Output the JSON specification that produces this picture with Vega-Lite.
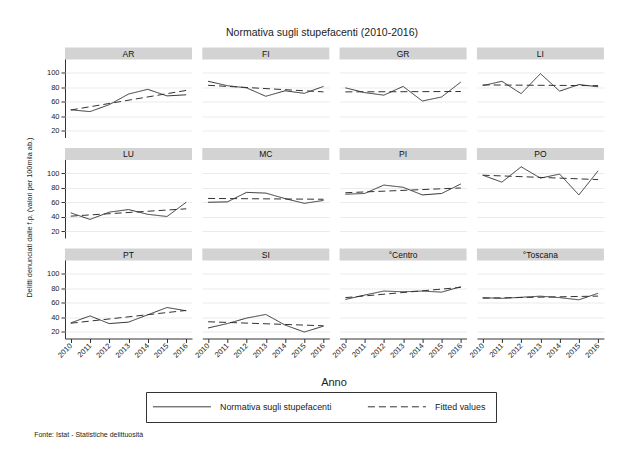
{
  "$schema": "https://vega.github.io/schema/vega-lite/v6.json",
  "padding": {"left": 26, "top": 27.5, "right": 5, "bottom": 5},
  "background": "white",
  "title": {"text": "Fonte: Istat - Statistiche delittuosità", "orient": "bottom", "anchor": "start", "fontSize": 7, "fontWeight": "normal", "color": "#222", "font": "Liberation Sans", "offset": 8, "dx": 8},
  "vconcat": [
    {
      "title": {"text": "Normativa sugli stupefacenti (2010-2016)", "anchor": "middle", "fontSize": 10.5, "fontWeight": "normal", "color": "#222", "font": "Liberation Sans", "offset": 9, "dx": 7},
      "vconcat": [
        {
          "title": {"text": "Delitti denunciati dalle f.p. (valori per 100mila ab.)", "orient": "left", "anchor": "middle", "fontSize": 7.3, "fontWeight": "normal", "color": "#222", "font": "Liberation Sans", "offset": 13},
          "data": {"values": [
            {"panel":"AR","series":"strip"},
            {"panel":"FI","series":"strip"},
            {"panel":"GR","series":"strip"},
            {"panel":"LI","series":"strip"},
            {"panel":"LU","series":"strip"},
            {"panel":"MC","series":"strip"},
            {"panel":"PI","series":"strip"},
            {"panel":"PO","series":"strip"},
            {"panel":"PT","series":"strip"},
            {"panel":"SI","series":"strip"},
            {"panel":"°Centro","series":"strip"},
            {"panel":"°Toscana","series":"strip"},
            {"panel":"AR","series":"Normativa sugli stupefacenti","anno":2010,"v":49},
            {"panel":"AR","series":"Normativa sugli stupefacenti","anno":2011,"v":46.5},
            {"panel":"AR","series":"Normativa sugli stupefacenti","anno":2012,"v":56},
            {"panel":"AR","series":"Normativa sugli stupefacenti","anno":2013,"v":70.5},
            {"panel":"AR","series":"Normativa sugli stupefacenti","anno":2014,"v":77},
            {"panel":"AR","series":"Normativa sugli stupefacenti","anno":2015,"v":68},
            {"panel":"AR","series":"Normativa sugli stupefacenti","anno":2016,"v":69.5},
            {"panel":"AR","series":"Fitted values","anno":2010,"v":48.7},
            {"panel":"AR","series":"Fitted values","anno":2016,"v":75.5},
            {"panel":"FI","series":"Normativa sugli stupefacenti","anno":2010,"v":88},
            {"panel":"FI","series":"Normativa sugli stupefacenti","anno":2011,"v":82},
            {"panel":"FI","series":"Normativa sugli stupefacenti","anno":2012,"v":79},
            {"panel":"FI","series":"Normativa sugli stupefacenti","anno":2013,"v":67.5},
            {"panel":"FI","series":"Normativa sugli stupefacenti","anno":2014,"v":75},
            {"panel":"FI","series":"Normativa sugli stupefacenti","anno":2015,"v":71.5},
            {"panel":"FI","series":"Normativa sugli stupefacenti","anno":2016,"v":81},
            {"panel":"FI","series":"Fitted values","anno":2010,"v":82.5},
            {"panel":"FI","series":"Fitted values","anno":2016,"v":73.5},
            {"panel":"GR","series":"Normativa sugli stupefacenti","anno":2010,"v":79},
            {"panel":"GR","series":"Normativa sugli stupefacenti","anno":2011,"v":72.5},
            {"panel":"GR","series":"Normativa sugli stupefacenti","anno":2012,"v":69},
            {"panel":"GR","series":"Normativa sugli stupefacenti","anno":2013,"v":81},
            {"panel":"GR","series":"Normativa sugli stupefacenti","anno":2014,"v":61},
            {"panel":"GR","series":"Normativa sugli stupefacenti","anno":2015,"v":66.5},
            {"panel":"GR","series":"Normativa sugli stupefacenti","anno":2016,"v":87},
            {"panel":"GR","series":"Fitted values","anno":2010,"v":73.5},
            {"panel":"GR","series":"Fitted values","anno":2016,"v":74},
            {"panel":"LI","series":"Normativa sugli stupefacenti","anno":2010,"v":82},
            {"panel":"LI","series":"Normativa sugli stupefacenti","anno":2011,"v":88},
            {"panel":"LI","series":"Normativa sugli stupefacenti","anno":2012,"v":71},
            {"panel":"LI","series":"Normativa sugli stupefacenti","anno":2013,"v":98.5},
            {"panel":"LI","series":"Normativa sugli stupefacenti","anno":2014,"v":74.5},
            {"panel":"LI","series":"Normativa sugli stupefacenti","anno":2015,"v":83.5},
            {"panel":"LI","series":"Normativa sugli stupefacenti","anno":2016,"v":80.5},
            {"panel":"LI","series":"Fitted values","anno":2010,"v":83},
            {"panel":"LI","series":"Fitted values","anno":2016,"v":82},
            {"panel":"LU","series":"Normativa sugli stupefacenti","anno":2010,"v":45.5},
            {"panel":"LU","series":"Normativa sugli stupefacenti","anno":2011,"v":36.5},
            {"panel":"LU","series":"Normativa sugli stupefacenti","anno":2012,"v":46.5},
            {"panel":"LU","series":"Normativa sugli stupefacenti","anno":2013,"v":50},
            {"panel":"LU","series":"Normativa sugli stupefacenti","anno":2014,"v":43.5},
            {"panel":"LU","series":"Normativa sugli stupefacenti","anno":2015,"v":40.5},
            {"panel":"LU","series":"Normativa sugli stupefacenti","anno":2016,"v":60},
            {"panel":"LU","series":"Fitted values","anno":2010,"v":41},
            {"panel":"LU","series":"Fitted values","anno":2016,"v":51},
            {"panel":"MC","series":"Normativa sugli stupefacenti","anno":2010,"v":60},
            {"panel":"MC","series":"Normativa sugli stupefacenti","anno":2011,"v":60.5},
            {"panel":"MC","series":"Normativa sugli stupefacenti","anno":2012,"v":73.5},
            {"panel":"MC","series":"Normativa sugli stupefacenti","anno":2013,"v":72.5},
            {"panel":"MC","series":"Normativa sugli stupefacenti","anno":2014,"v":65},
            {"panel":"MC","series":"Normativa sugli stupefacenti","anno":2015,"v":58.5},
            {"panel":"MC","series":"Normativa sugli stupefacenti","anno":2016,"v":62.5},
            {"panel":"MC","series":"Fitted values","anno":2010,"v":65.2},
            {"panel":"MC","series":"Fitted values","anno":2016,"v":64.1},
            {"panel":"PI","series":"Normativa sugli stupefacenti","anno":2010,"v":71},
            {"panel":"PI","series":"Normativa sugli stupefacenti","anno":2011,"v":72},
            {"panel":"PI","series":"Normativa sugli stupefacenti","anno":2012,"v":83.5},
            {"panel":"PI","series":"Normativa sugli stupefacenti","anno":2013,"v":80.5},
            {"panel":"PI","series":"Normativa sugli stupefacenti","anno":2014,"v":70},
            {"panel":"PI","series":"Normativa sugli stupefacenti","anno":2015,"v":72},
            {"panel":"PI","series":"Normativa sugli stupefacenti","anno":2016,"v":85},
            {"panel":"PI","series":"Fitted values","anno":2010,"v":73},
            {"panel":"PI","series":"Fitted values","anno":2016,"v":79.5},
            {"panel":"PO","series":"Normativa sugli stupefacenti","anno":2010,"v":97},
            {"panel":"PO","series":"Normativa sugli stupefacenti","anno":2011,"v":87.5},
            {"panel":"PO","series":"Normativa sugli stupefacenti","anno":2012,"v":108.5},
            {"panel":"PO","series":"Normativa sugli stupefacenti","anno":2013,"v":93},
            {"panel":"PO","series":"Normativa sugli stupefacenti","anno":2014,"v":98.5},
            {"panel":"PO","series":"Normativa sugli stupefacenti","anno":2015,"v":70},
            {"panel":"PO","series":"Normativa sugli stupefacenti","anno":2016,"v":103},
            {"panel":"PO","series":"Fitted values","anno":2010,"v":97},
            {"panel":"PO","series":"Fitted values","anno":2016,"v":91},
            {"panel":"PT","series":"Normativa sugli stupefacenti","anno":2010,"v":32.5},
            {"panel":"PT","series":"Normativa sugli stupefacenti","anno":2011,"v":42},
            {"panel":"PT","series":"Normativa sugli stupefacenti","anno":2012,"v":31.5},
            {"panel":"PT","series":"Normativa sugli stupefacenti","anno":2013,"v":33.5},
            {"panel":"PT","series":"Normativa sugli stupefacenti","anno":2014,"v":43.5},
            {"panel":"PT","series":"Normativa sugli stupefacenti","anno":2015,"v":53.5},
            {"panel":"PT","series":"Normativa sugli stupefacenti","anno":2016,"v":49},
            {"panel":"PT","series":"Fitted values","anno":2010,"v":32},
            {"panel":"PT","series":"Fitted values","anno":2016,"v":49.5},
            {"panel":"SI","series":"Normativa sugli stupefacenti","anno":2010,"v":25.5},
            {"panel":"SI","series":"Normativa sugli stupefacenti","anno":2011,"v":31.5},
            {"panel":"SI","series":"Normativa sugli stupefacenti","anno":2012,"v":39},
            {"panel":"SI","series":"Normativa sugli stupefacenti","anno":2013,"v":44},
            {"panel":"SI","series":"Normativa sugli stupefacenti","anno":2014,"v":29.5},
            {"panel":"SI","series":"Normativa sugli stupefacenti","anno":2015,"v":20},
            {"panel":"SI","series":"Normativa sugli stupefacenti","anno":2016,"v":28},
            {"panel":"SI","series":"Fitted values","anno":2010,"v":34},
            {"panel":"SI","series":"Fitted values","anno":2016,"v":28.5},
            {"panel":"°Centro","series":"Normativa sugli stupefacenti","anno":2010,"v":64.5},
            {"panel":"°Centro","series":"Normativa sugli stupefacenti","anno":2011,"v":70.5},
            {"panel":"°Centro","series":"Normativa sugli stupefacenti","anno":2012,"v":76},
            {"panel":"°Centro","series":"Normativa sugli stupefacenti","anno":2013,"v":75},
            {"panel":"°Centro","series":"Normativa sugli stupefacenti","anno":2014,"v":76},
            {"panel":"°Centro","series":"Normativa sugli stupefacenti","anno":2015,"v":74.5},
            {"panel":"°Centro","series":"Normativa sugli stupefacenti","anno":2016,"v":82},
            {"panel":"°Centro","series":"Fitted values","anno":2010,"v":67},
            {"panel":"°Centro","series":"Fitted values","anno":2016,"v":81},
            {"panel":"°Toscana","series":"Normativa sugli stupefacenti","anno":2010,"v":67},
            {"panel":"°Toscana","series":"Normativa sugli stupefacenti","anno":2011,"v":66},
            {"panel":"°Toscana","series":"Normativa sugli stupefacenti","anno":2012,"v":67.5},
            {"panel":"°Toscana","series":"Normativa sugli stupefacenti","anno":2013,"v":69},
            {"panel":"°Toscana","series":"Normativa sugli stupefacenti","anno":2014,"v":67},
            {"panel":"°Toscana","series":"Normativa sugli stupefacenti","anno":2015,"v":64},
            {"panel":"°Toscana","series":"Normativa sugli stupefacenti","anno":2016,"v":73},
            {"panel":"°Toscana","series":"Fitted values","anno":2010,"v":66.2},
            {"panel":"°Toscana","series":"Fitted values","anno":2016,"v":69.1}
          ]},
          "facet": {
            "field": "panel", "type": "nominal",
            "sort": ["AR","FI","GR","LI","LU","MC","PI","PO","PT","SI","°Centro","°Toscana"],
            "header": {"title": "Anno", "titleOrient": "bottom", "labels": false, "labelFontSize": 0, "labelPadding": 0, "labelExpr": "''", "titleFontSize": 11, "titleFontWeight": "normal", "titleColor": "#222", "titleFont": "Liberation Sans", "titlePadding": 17}
          },
          "columns": 4,
          "spacing": {"row": 10.5, "column": 10.3},
          "spec": {
            "width": 127,
            "height": 90,
            "layer": [
              {
                "transform": [{"filter": "datum.series === 'strip'"}],
                "mark": {"type": "rect", "color": "#d3d3d3"},
                "encoding": {
                  "x": {"datum": 2009.7, "type": "quantitative",
                        "scale": {"domain": [2009.7, 2016.3], "nice": false, "zero": false},
                        "axis": {"values": [2010,2011,2012,2013,2014,2015,2016], "format": "d", "title": null, "labelAngle": -45, "labelAlign": "right", "labelBaseline": "middle", "grid": false, "labelOverlap": false}},
                  "x2": {"datum": 2016.3},
                  "y": {"datum": 117.78, "type": "quantitative",
                        "scale": {"domain": [11.11, 134.19], "nice": false, "zero": false},
                        "axis": {"values": [20,40,60,80,100], "title": null, "grid": true, "labelOverlap": false}},
                  "y2": {"datum": 134.19}
                }
              },
              {
                "transform": [{"filter": "datum.series === 'strip'"}],
                "mark": {"type": "text", "fontSize": 8.5, "font": "Liberation Sans", "color": "#111", "baseline": "middle", "align": "center"},
                "encoding": {
                  "x": {"datum": 2013, "type": "quantitative",
                        "axis": {"values": [2010,2011,2012,2013,2014,2015,2016], "format": "d", "title": null, "labelAngle": -45, "labelAlign": "right", "labelBaseline": "middle", "grid": false, "labelOverlap": false}},
                  "y": {"datum": 125.98, "type": "quantitative",
                        "axis": {"values": [20,40,60,80,100], "title": null, "grid": true, "labelOverlap": false}},
                  "text": {"field": "panel", "type": "nominal"}
                }
              },
              {
                "transform": [{"filter": "datum.series !== 'strip'"}],
                "mark": {"type": "line", "color": "#333", "strokeWidth": 1},
                "encoding": {
                  "x": {"field": "anno", "type": "quantitative",
                        "axis": {"values": [2010,2011,2012,2013,2014,2015,2016], "format": "d", "title": null, "labelAngle": -45, "labelAlign": "right", "labelBaseline": "middle", "grid": false, "labelOverlap": false}},
                  "y": {"field": "v", "type": "quantitative",
                        "axis": {"values": [20,40,60,80,100], "title": null, "grid": true, "labelOverlap": false}},
                  "strokeDash": {"field": "series", "type": "nominal",
                    "scale": {"domain": ["Normativa sugli stupefacenti", "Fitted values"], "range": [[1,0],[7,4]]},
                    "legend": {"title": null}}
                }
              }
            ]
          }
        }
      ]
    }
  ],
  "config": {
    "font": "Liberation Sans",
    "view": {"stroke": null},
    "header": {"labels": false},
    "headerFacet": {"labels": false},
    "axis": {
      "labelFont": "Liberation Sans", "labelFontSize": 7.5, "labelColor": "#222",
      "domainColor": "#333", "tickColor": "#333", "tickSize": 4, "labelPadding": 2,
      "gridColor": "#ebebeb", "gridWidth": 1, "domainWidth": 1, "tickWidth": 1, "labelOverlap": false
    },
    "legend": {
      "orient": "none", "legendX": 81, "legendY": 344.5, "direction": "horizontal",
      "strokeColor": "#333", "padding": 10, "symbolType": "M-1.9,0L12.6,0", "symbolSize": 64,
      "symbolStrokeColor": "#333", "symbolStrokeWidth": 1, "labelFontSize": 8.9,
      "labelFont": "Liberation Sans", "labelColor": "#222", "labelOffset": 55, "columnPadding": 33, "labelLimit": 300
    }
  }
}
